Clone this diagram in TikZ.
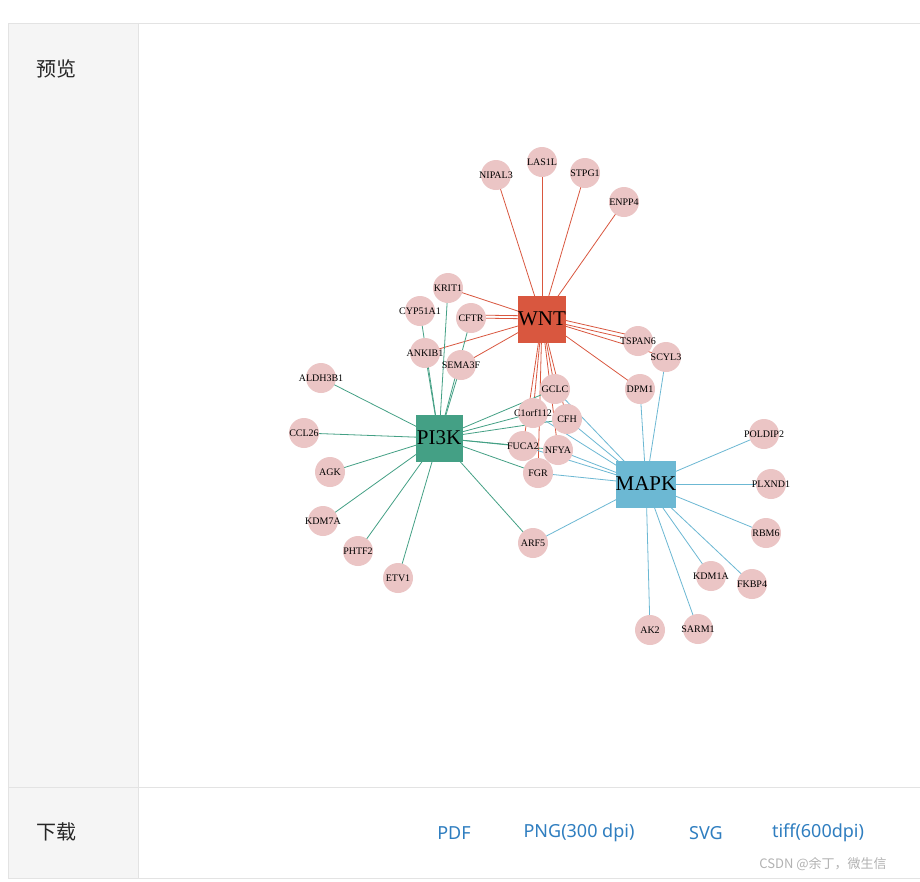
\documentclass[tikz,border=0pt]{standalone}
\usepackage{fontspec}
\setmainfont{Liberation Serif}
\newfontfamily\cjk{Noto Sans CJK SC}
\newfontfamily\lnkfont{Noto Sans}
\definecolor{wntc}{HTML}{D9573F}
\definecolor{pikc}{HTML}{44A085}
\definecolor{mapc}{HTML}{6CB8D3}
\definecolor{genc}{HTML}{EBC5C5}
\definecolor{linkc}{HTML}{2F7EC0}
\definecolor{gridc}{HTML}{E3E3E3}
\begin{document}
\begin{tikzpicture}[x=1pt,y=-1pt,
  hub/.style={draw=none,minimum size=47pt,inner sep=0pt,font=\fontsize{21}{21}\selectfont},
  gene/.style={circle,fill=genc,minimum size=30pt,inner sep=0pt},
  gtxt/.style={font=\fontsize{10}{10}\selectfont,inner sep=0pt},
  we/.style={draw=wntc,line width=0.8pt},
  pe/.style={draw=pikc,line width=0.8pt},
  me/.style={draw=mapc,line width=0.8pt},
  lab/.style={font=\cjk\fontsize{20}{20}\selectfont,text=black!85},
  lnk/.style={font=\lnkfont\fontsize{18}{18}\selectfont,text=linkc}]
\useasboundingbox (0,0) rectangle (920,881);
\fill[white] (0,0) rectangle (920,881);
\fill[black!4] (8,23) rectangle (138,878);
\draw[gridc] (8,23) -- (920,23) (8,23) -- (8,878) -- (920,878) (138,23) -- (138,878) (8,787) -- (920,787);
\node[lab] (pv) at (56,69) {预览};
\node[lab] (xz) at (56,832) {下载};
\node[lnk] (pdf) at (454,833) {PDF};
\node[lnk] (png) at (579,833) {PNG(300 dpi)};
\node[lnk] (svg) at (706,833) {SVG};
\node[lnk] (tif) at (818,833) {tiff(600dpi)};
\node[font=\cjk\fontsize{13}{13}\selectfont,text=black!30] (wm) at (823,864) {CSDN @余丁，微生信};
\foreach \n/\x/\y/\t in {NIPAL3/496/175/NIPAL3,LAS1L/542/162/LAS1L,STPG1/585/173/STPG1,ENPP4/624/202/ENPP4,
 KRIT1/448/288/KRIT1,CYP/420/311/CYP51A1,CFTR/471/318/CFTR,ANKIB1/425/353/ANKIB1,SEMA3F/461/365/SEMA3F,
 TSPAN6/638/341/TSPAN6,SCYL3/666/357/SCYL3,DPM1/640/389/DPM1,GCLC/555/389/GCLC,C1/533/413/C1orf112,
 CFH/567/419/CFH,FUCA2/523/446/FUCA2,NFYA/558/450/NFYA,FGR/538/473/FGR,ALDH3B1/321/378/ALDH3B1,
 CCL26/304/433/CCL26,AGK/330/472/AGK,KDM7A/323/521/KDM7A,PHTF2/358/551/PHTF2,ETV1/398/578/ETV1,
 ARF5/533/543/ARF5,POLDIP2/764/434/POLDIP2,PLXND1/771/484/PLXND1,RBM6/766/533/RBM6,KDM1A/711/576/KDM1A,
 FKBP4/752/584/FKBP4,SARM1/698/629/SARM1,AK2/650/630/AK2}
  \coordinate (\n) at (\x,\y);
\coordinate (WNT) at (542,319);
\coordinate (PI3K) at (439,438);
\coordinate (MAPK) at (646,484);
\foreach \g in {NIPAL3,LAS1L,STPG1,ENPP4,KRIT1,CFTR,ANKIB1,SEMA3F,TSPAN6,SCYL3,DPM1,GCLC,C1,CFH,FUCA2,NFYA,FGR}
  \draw[we] (WNT) -- (\g);
\draw[we] ([yshift=3]WNT.center) -- ([yshift=3]CFTR);
\draw[we] ([yshift=4]WNT.center) -- ([yshift=4]TSPAN6);
\foreach \g in {ALDH3B1,CCL26,AGK,KDM7A,PHTF2,ETV1,ARF5,CYP,CFTR,ANKIB1,SEMA3F,GCLC,C1,CFH,FUCA2,NFYA,FGR,KRIT1}
  \draw[pe] (PI3K) -- (\g);
\foreach \g in {POLDIP2,PLXND1,RBM6,FKBP4,KDM1A,SARM1,AK2,ARF5,DPM1,SCYL3,GCLC,C1,CFH,NFYA,FUCA2,FGR}
  \draw[me] (MAPK) -- (\g);
\foreach \n/\x/\y/\t in {NIPAL3/496/175/NIPAL3,LAS1L/542/162/LAS1L,STPG1/585/173/STPG1,ENPP4/624/202/ENPP4,
 KRIT1/448/288/KRIT1,CYP/420/311/CYP51A1,CFTR/471/318/CFTR,ANKIB1/425/353/ANKIB1,SEMA3F/461/365/SEMA3F,
 TSPAN6/638/341/TSPAN6,SCYL3/666/357/SCYL3,DPM1/640/389/DPM1,GCLC/555/389/GCLC,C1/533/413/C1orf112,
 CFH/567/419/CFH,FUCA2/523/446/FUCA2,NFYA/558/450/NFYA,FGR/538/473/FGR,ALDH3B1/321/378/ALDH3B1,
 CCL26/304/433/CCL26,AGK/330/472/AGK,KDM7A/323/521/KDM7A,PHTF2/358/551/PHTF2,ETV1/398/578/ETV1,
 ARF5/533/543/ARF5,POLDIP2/764/434/POLDIP2,PLXND1/771/484/PLXND1,RBM6/766/533/RBM6,KDM1A/711/576/KDM1A,
 FKBP4/752/584/FKBP4,SARM1/698/629/SARM1,AK2/650/630/AK2}
  \node[gene] (n\n) at (\x,\y) {};
\foreach \n/\x/\y/\t in {NIPAL3/496/175/NIPAL3,LAS1L/542/162/LAS1L,STPG1/585/173/STPG1,ENPP4/624/202/ENPP4,
 KRIT1/448/288/KRIT1,CYP/420/311/CYP51A1,CFTR/471/318/CFTR,ANKIB1/425/353/ANKIB1,SEMA3F/461/365/SEMA3F,
 TSPAN6/638/341/TSPAN6,SCYL3/666/357/SCYL3,DPM1/640/389/DPM1,GCLC/555/389/GCLC,C1/533/413/C1orf112,
 CFH/567/419/CFH,FUCA2/523/446/FUCA2,NFYA/558/450/NFYA,FGR/538/473/FGR,ALDH3B1/321/378/ALDH3B1,
 CCL26/304/433/CCL26,AGK/330/472/AGK,KDM7A/323/521/KDM7A,PHTF2/358/551/PHTF2,ETV1/398/578/ETV1,
 ARF5/533/543/ARF5,POLDIP2/764/434/POLDIP2,PLXND1/771/484/PLXND1,RBM6/766/533/RBM6,KDM1A/711/576/KDM1A,
 FKBP4/752/584/FKBP4,SARM1/698/629/SARM1,AK2/650/630/AK2}
  \node[gtxt] (t\n) at (\x,\y) {\t};
\node[hub,fill=wntc] (hW) at (WNT) {WNT};
\node[hub,fill=pikc] (hP) at (PI3K) {PI3K};
\node[hub,fill=mapc] (hM) at (MAPK) {MAPK};
\end{tikzpicture}
\end{document}
